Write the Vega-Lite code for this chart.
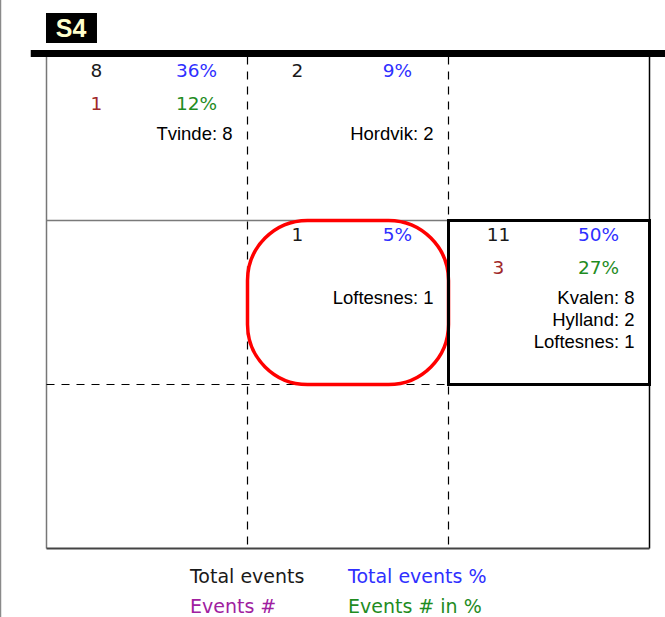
{
  "$schema": "https://vega.github.io/schema/vega-lite/v6.json",
  "width": 603,
  "height": 492,
  "autosize": {"type": "none"},
  "padding": {"left": 46.5, "top": 56.5, "right": 15.5, "bottom": 68.5},
  "background": "white",
  "config": {"view": {"stroke": null}},
  "datasets": {
    "cells": [
      {"col": 0, "row": 0, "total": 8, "pct": 0.36, "events": 1, "eventsPct": 0.12, "stations": "Tvinde: 8"},
      {"col": 1, "row": 0, "total": 2, "pct": 0.09, "stations": "Hordvik: 2"},
      {"col": 1, "row": 1, "total": 1, "pct": 0.05, "stations": "Loftesnes: 1"},
      {"col": 2, "row": 1, "total": 11, "pct": 0.50, "events": 3, "eventsPct": 0.27, "stations": "Kvalen: 8\nHylland: 2\nLoftesnes: 1"}
    ],
    "one": [{}]
  },
  "data": {"name": "one"},
  "layer": [
    {"mark": {"type": "rule", "color": "#8a8a8a", "strokeWidth": 1.5},
     "encoding": {
       "x": {"datum": -0.2289, "scale": {"domain": [0, 3], "nice": false, "zero": false}, "axis": null},
       "y": {"datum": -0.36, "scale": {"domain": [0, 3], "nice": false, "zero": false, "reverse": true}, "axis": null},
       "y2": {"datum": 3.45}}},
    {"mark": {"type": "rule", "color": "#777777", "strokeWidth": 1.5},
     "encoding": {
       "x": {"datum": 0, "scale": {"domain": [0, 3], "nice": false, "zero": false}, "axis": null},
       "y": {"datum": 0, "scale": {"domain": [0, 3], "nice": false, "zero": false, "reverse": true}, "axis": null},
       "y2": {"datum": 3}}},
    {"mark": {"type": "rule", "color": "#7a7a7a", "strokeWidth": 1.5},
     "encoding": {
       "x": {"datum": 0, "scale": {"domain": [0, 3], "nice": false, "zero": false}, "axis": null},
       "x2": {"datum": 3},
       "y": {"datum": 1, "scale": {"domain": [0, 3], "nice": false, "zero": false, "reverse": true}, "axis": null}}},
    {"mark": {"type": "rule", "color": "#000000", "strokeWidth": 1.2, "strokeDash": [8, 7]},
     "encoding": {
       "x": {"datum": 0, "scale": {"domain": [0, 3], "nice": false, "zero": false}, "axis": null},
       "x2": {"datum": 3},
       "y": {"datum": 2, "scale": {"domain": [0, 3], "nice": false, "zero": false, "reverse": true}, "axis": null}}},
    {"mark": {"type": "rule", "color": "#000000", "strokeWidth": 1.2, "strokeDash": [8, 7]},
     "encoding": {
       "x": {"datum": 1, "scale": {"domain": [0, 3], "nice": false, "zero": false}, "axis": null},
       "y": {"datum": 0, "scale": {"domain": [0, 3], "nice": false, "zero": false, "reverse": true}, "axis": null},
       "y2": {"datum": 3}}},
    {"mark": {"type": "rule", "color": "#000000", "strokeWidth": 1.2, "strokeDash": [8, 7]},
     "encoding": {
       "x": {"datum": 2, "scale": {"domain": [0, 3], "nice": false, "zero": false}, "axis": null},
       "y": {"datum": 0, "scale": {"domain": [0, 3], "nice": false, "zero": false, "reverse": true}, "axis": null},
       "y2": {"datum": 3}}},
    {"mark": {"type": "rule", "color": "#000000", "strokeWidth": 1.5},
     "encoding": {
       "x": {"datum": 3, "scale": {"domain": [0, 3], "nice": false, "zero": false}, "axis": null},
       "y": {"datum": 0, "scale": {"domain": [0, 3], "nice": false, "zero": false, "reverse": true}, "axis": null},
       "y2": {"datum": 3}}},
    {"mark": {"type": "rule", "color": "#444444", "strokeWidth": 2},
     "encoding": {
       "x": {"datum": 0, "scale": {"domain": [0, 3], "nice": false, "zero": false}, "axis": null},
       "x2": {"datum": 3},
       "y": {"datum": 3, "scale": {"domain": [0, 3], "nice": false, "zero": false, "reverse": true}, "axis": null}}},
    {"mark": {"type": "rule", "color": "#000000", "strokeWidth": 7},
     "encoding": {
       "x": {"datum": -0.0784, "scale": {"domain": [0, 3], "nice": false, "zero": false}, "axis": null},
       "x2": {"datum": 3.09},
       "y": {"datum": -0.0183, "scale": {"domain": [0, 3], "nice": false, "zero": false, "reverse": true}, "axis": null}}},
    {"mark": {"type": "rect", "filled": false, "color": "#ff0000", "strokeWidth": 3.5, "cornerRadius": 60},
     "encoding": {
       "x": {"datum": 1, "scale": {"domain": [0, 3], "nice": false, "zero": false}, "axis": null},
       "x2": {"datum": 2},
       "y": {"datum": 1, "scale": {"domain": [0, 3], "nice": false, "zero": false, "reverse": true}, "axis": null},
       "y2": {"datum": 2}}},
    {"mark": {"type": "rect", "filled": false, "color": "#000000", "strokeWidth": 3},
     "encoding": {
       "x": {"datum": 2, "scale": {"domain": [0, 3], "nice": false, "zero": false}, "axis": null},
       "x2": {"datum": 3},
       "y": {"datum": 1, "scale": {"domain": [0, 3], "nice": false, "zero": false, "reverse": true}, "axis": null},
       "y2": {"datum": 2}}},
    {"mark": {"type": "rect", "color": "#000000"},
     "encoding": {
       "x": {"datum": -0.0025, "scale": {"domain": [0, 3], "nice": false, "zero": false}, "axis": null},
       "x2": {"datum": 0.2512},
       "y": {"datum": -0.2652, "scale": {"domain": [0, 3], "nice": false, "zero": false, "reverse": true}, "axis": null},
       "y2": {"datum": -0.0823}}},
    {"mark": {"type": "text", "color": "#ffffcc", "font": "Liberation Sans", "fontWeight": "bold", "fontSize": 25, "align": "center", "baseline": "alphabetic"},
     "encoding": {
       "x": {"datum": 0.1219, "scale": {"domain": [0, 3], "nice": false, "zero": false}, "axis": null},
       "y": {"datum": -0.1207, "scale": {"domain": [0, 3], "nice": false, "zero": false, "reverse": true}, "axis": null},
       "text": {"value": "S4"}}},
    {"data": {"name": "cells"},
     "mark": {"type": "text", "color": "#1a1a1a", "font": "DejaVu Sans", "fontSize": 18.5, "align": "center", "baseline": "alphabetic", "dx": 50, "dy": 20.5},
     "encoding": {
       "x": {"field": "col", "type": "quantitative", "scale": {"domain": [0, 3], "nice": false, "zero": false}, "axis": null},
       "y": {"field": "row", "type": "quantitative", "scale": {"domain": [0, 3], "nice": false, "zero": false, "reverse": true}, "axis": null},
       "text": {"field": "total", "type": "quantitative"}}},
    {"data": {"name": "cells"},
     "mark": {"type": "text", "color": "#2f2fff", "font": "DejaVu Sans", "fontSize": 18.5, "align": "center", "baseline": "alphabetic", "dx": 150, "dy": 20.5},
     "encoding": {
       "x": {"field": "col", "type": "quantitative", "scale": {"domain": [0, 3], "nice": false, "zero": false}, "axis": null},
       "y": {"field": "row", "type": "quantitative", "scale": {"domain": [0, 3], "nice": false, "zero": false, "reverse": true}, "axis": null},
       "text": {"field": "pct", "type": "quantitative", "format": ".0%"}}},
    {"data": {"name": "cells"},
     "transform": [{"filter": "isValid(datum.events)"}],
     "mark": {"type": "text", "color": "#a02828", "font": "DejaVu Sans", "fontSize": 18.5, "align": "center", "baseline": "alphabetic", "dx": 50, "dy": 53},
     "encoding": {
       "x": {"field": "col", "type": "quantitative", "scale": {"domain": [0, 3], "nice": false, "zero": false}, "axis": null},
       "y": {"field": "row", "type": "quantitative", "scale": {"domain": [0, 3], "nice": false, "zero": false, "reverse": true}, "axis": null},
       "text": {"field": "events", "type": "quantitative"}}},
    {"data": {"name": "cells"},
     "transform": [{"filter": "isValid(datum.eventsPct)"}],
     "mark": {"type": "text", "color": "#1f8c1f", "font": "DejaVu Sans", "fontSize": 18.5, "align": "center", "baseline": "alphabetic", "dx": 150, "dy": 53},
     "encoding": {
       "x": {"field": "col", "type": "quantitative", "scale": {"domain": [0, 3], "nice": false, "zero": false}, "axis": null},
       "y": {"field": "row", "type": "quantitative", "scale": {"domain": [0, 3], "nice": false, "zero": false, "reverse": true}, "axis": null},
       "text": {"field": "eventsPct", "type": "quantitative", "format": ".0%"}}},
    {"data": {"name": "cells"},
     "mark": {"type": "text", "color": "#000000", "font": "Liberation Sans", "fontSize": 18.5, "align": "right", "baseline": "alphabetic", "dx": 186, "dy": 83, "lineBreak": "\n", "lineHeight": 22.3},
     "encoding": {
       "x": {"field": "col", "type": "quantitative", "scale": {"domain": [0, 3], "nice": false, "zero": false}, "axis": null},
       "y": {"field": "row", "type": "quantitative", "scale": {"domain": [0, 3], "nice": false, "zero": false, "reverse": true}, "axis": null},
       "text": {"field": "stations", "type": "nominal"}}},
    {"mark": {"type": "text", "color": "#1a1a1a", "font": "DejaVu Sans", "fontSize": 19, "align": "left", "baseline": "alphabetic"},
     "encoding": {
       "x": {"datum": 0.7139, "scale": {"domain": [0, 3], "nice": false, "zero": false}, "axis": null},
       "y": {"datum": 3.2086, "scale": {"domain": [0, 3], "nice": false, "zero": false, "reverse": true}, "axis": null},
       "text": {"value": "Total events"}}},
    {"mark": {"type": "text", "color": "#2f2fff", "font": "DejaVu Sans", "fontSize": 19, "align": "left", "baseline": "alphabetic"},
     "encoding": {
       "x": {"datum": 1.5, "scale": {"domain": [0, 3], "nice": false, "zero": false}, "axis": null},
       "y": {"datum": 3.2086, "scale": {"domain": [0, 3], "nice": false, "zero": false, "reverse": true}, "axis": null},
       "text": {"value": "Total events %"}}},
    {"mark": {"type": "text", "color": "#a020a0", "font": "DejaVu Sans", "fontSize": 19, "align": "left", "baseline": "alphabetic"},
     "encoding": {
       "x": {"datum": 0.7139, "scale": {"domain": [0, 3], "nice": false, "zero": false}, "axis": null},
       "y": {"datum": 3.3903, "scale": {"domain": [0, 3], "nice": false, "zero": false, "reverse": true}, "axis": null},
       "text": {"value": "Events #"}}},
    {"mark": {"type": "text", "color": "#1f8c1f", "font": "DejaVu Sans", "fontSize": 19, "align": "left", "baseline": "alphabetic"},
     "encoding": {
       "x": {"datum": 1.5, "scale": {"domain": [0, 3], "nice": false, "zero": false}, "axis": null},
       "y": {"datum": 3.3903, "scale": {"domain": [0, 3], "nice": false, "zero": false, "reverse": true}, "axis": null},
       "text": {"value": "Events # in %"}}}
  ]
}
